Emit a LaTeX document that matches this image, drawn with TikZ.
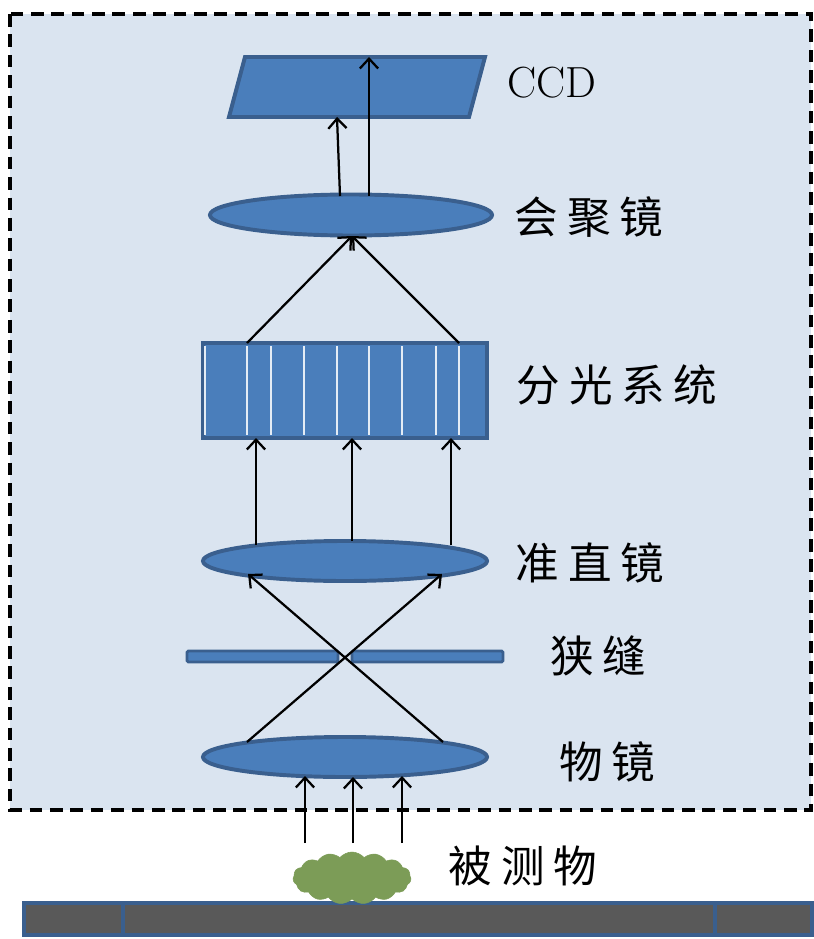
\documentclass[tikz,border=0pt]{standalone}
\usepackage{fontspec}
\newfontfamily\cjk[LetterSpace=20]{Noto Sans CJK SC}
\usetikzlibrary{shapes.geometric,shapes.symbols,arrows.meta}

\definecolor{optblue}{HTML}{4A7EBB}
\definecolor{optedge}{HTML}{3A5F8E}
\definecolor{boxbg}{HTML}{DAE4F0}
\definecolor{stagegray}{HTML}{595959}
\definecolor{samplegreen}{HTML}{7C9C57}

\tikzset{
  lens/.style={ellipse,draw=optedge,fill=optblue,line width=2.8pt,inner sep=0pt,
    minimum width=7.1cm,minimum height=1cm},
  part/.style={draw=optedge,fill=optblue,line width=2.8pt},
  ray/.style={line width=1.6pt,-{Straight Barb[length=7pt,width=13pt]}},
  lbl/.style={font=\fontsize{31}{34}\selectfont\cjk},
}

\begin{document}
\begin{tikzpicture}[x=0.025cm,y=-0.025cm]
  \useasboundingbox (0,0) rectangle (814,939);

  % instrument housing
  \draw[fill=boxbg,line width=2.5pt,dash pattern=on 9pt off 5.5pt] (10,14) rectangle (811,810);

  % optical parts
  \draw[part] (229,117) -- (245,57) -- (485,57) -- (469,117) -- cycle;
  \node[lens,minimum width=7.05cm,minimum height=1.025cm] (cond) at (351,215) {};
  \node[part,rectangle,inner sep=0pt,minimum width=7.1cm,minimum height=2.375cm] (spec) at (345,390.5) {};
  \foreach \x in {205,247,271,304,337,369,402,436,459}
    \draw[white!85!optblue,line width=2pt] (\x,346) -- (\x,435);
  \node[lens] (col) at (345,561) {};
  \draw[part,line width=2pt,rounded corners=1pt] (187,651) rectangle (338,662);
  \draw[part,line width=2pt,rounded corners=1pt] (352,651) rectangle (503,662);
  \node[lens] (obj) at (345,757) {};

  % sample on the stage
  \node[draw=optedge,fill=stagegray,line width=2.8pt,inner sep=0pt,
    minimum width=19.7cm,minimum height=0.8cm] (stage) at (418,919) {};
  \draw[optedge,line width=2.8pt] (123,904) -- (123,934);
  \draw[optedge,line width=2.8pt] (715,904) -- (715,934);
  \node[cloud,cloud puffs=15,cloud puff arc=100,cloud ignores aspect,fill=samplegreen,
    draw=samplegreen,inner sep=0pt,minimum width=2.95cm,minimum height=1.3cm] (sample) at (352,878) {};

  % ray end points
  \coordinate (in1) at (305,843);
  \coordinate (in2) at (353,843);
  \coordinate (in3) at (402,843);
  \coordinate (obj1) at (305,776);
  \coordinate (obj2) at (353,777);
  \coordinate (obj3) at (402,776);
  \coordinate (objl) at (247,742);
  \coordinate (objr) at (443,742);
  \coordinate (coll) at (248,574);
  \coordinate (colr) at (442,574);
  \coordinate (col1) at (256,545);
  \coordinate (col2) at (352,541);
  \coordinate (col3) at (451,545);
  \coordinate (spec1) at (256,438);
  \coordinate (spec2) at (352,438);
  \coordinate (spec3) at (451,438);
  \coordinate (specl) at (247,343);
  \coordinate (specr) at (459,343);
  \coordinate (condb) at (352,236);
  \coordinate (cond1) at (340,196);
  \coordinate (cond2) at (369,196);
  \coordinate (ccd1) at (337,117);
  \coordinate (ccd2) at (369,57);

  \begin{scope}[ray]
    \draw (in1) to (obj1);
    \draw (in2) to (obj2);
    \draw (in3) to (obj3);
    \draw (objl) to (colr);
    \draw (objr) to (coll);
    \draw (col1) to (spec1);
    \draw (col2) to (spec2);
    \draw (col3) to (spec3);
    \draw (specl) to (condb);
    \draw (specr) to (condb);
    \draw (cond1) to (ccd1);
    \draw (cond2) to (ccd2);
  \end{scope}

  % labels
  \node[font=\fontsize{31}{34}\selectfont] (ccdlabel) at (552,83) {CCD};
  \node[lbl] (condlabel) at (589,217) {会聚镜};
  \node[lbl] (speclabel) at (617,385) {分光系统};
  \node[lbl] (collabel) at (590,563) {准直镜};
  \node[lbl] (slitlabel) at (598,656) {狭缝};
  \node[lbl] (objlabel) at (607,762) {物镜};
  \node[lbl] (samplelabel) at (523,866) {被测物};
\end{tikzpicture}
\end{document}
